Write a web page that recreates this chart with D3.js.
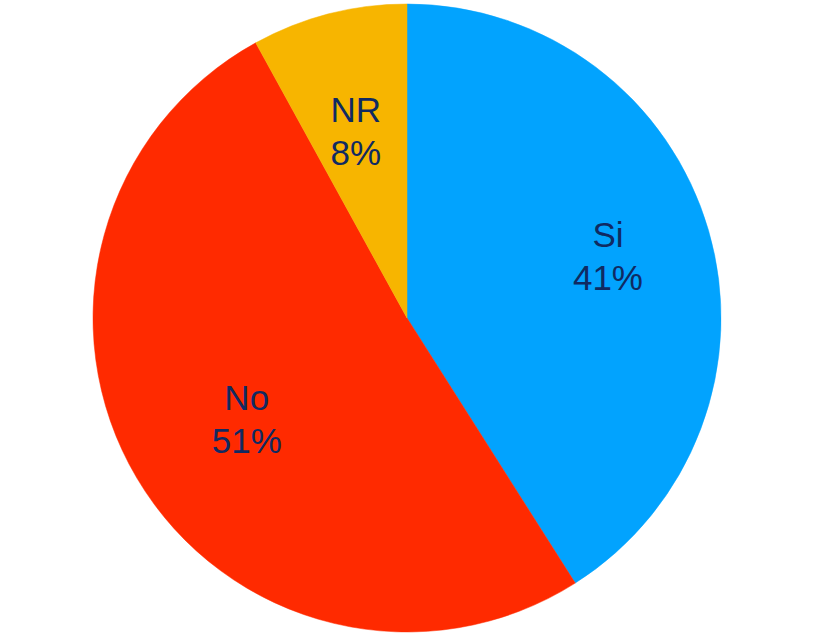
<!DOCTYPE html>
<html>
<head>
<meta charset="utf-8">
<script src="https://cdn.jsdelivr.net/npm/d3@7"></script>
<style>
  html, body { margin: 0; padding: 0; background: #ffffff; }
  svg { display: block; }
</style>
</head>
<body>
<svg id="chart" width="814" height="637"></svg>
<script>
const categories = ["Si", "No", "NR"];
const values = [41, 51, 8];
const colors = ["#02A3FE", "#FF2A00", "#F7B500"];

const width = 814, height = 637;
const cx = 407, cy = 318, R = 314;
// small label nudges (layout only)
const nudges = [[11, -7], [10, 0], [-2, 5]];

const svg = d3.select("#chart");
const g = svg.append("g").attr("transform", `translate(${cx},${cy})`);

const data = categories.map((c, i) => ({ name: c, value: values[i], color: colors[i] }));
const total = d3.sum(values);

const pie = d3.pie().value(d => d.value).sort(null);
const arc = d3.arc().innerRadius(0).outerRadius(R);
const labelArc = d3.arc().innerRadius(R * 0.63).outerRadius(R * 0.63);

const arcs = pie(data);

g.selectAll("path.slice")
  .data(arcs)
  .enter().append("path")
  .attr("class", "slice")
  .attr("d", arc)
  .attr("fill", d => d.data.color)
  .attr("stroke", d => d.data.color)
  .attr("stroke-width", 0.5);

const labels = g.selectAll("text.label")
  .data(arcs)
  .enter().append("text")
  .attr("class", "label")
  .attr("text-anchor", "middle")
  .attr("font-family", "'Liberation Sans', Arial, sans-serif")
  .attr("font-size", 35)
  .attr("fill", "#102A62")
  .attr("transform", (d, i) => {
    const c = labelArc.centroid(d);
    return `translate(${c[0] + nudges[i][0]},${c[1] + nudges[i][1]})`;
  });

labels.append("tspan")
  .attr("x", 0).attr("y", -9)
  .text(d => d.data.name);
labels.append("tspan")
  .attr("x", 0).attr("y", 34)
  .text(d => Math.round(d.data.value / total * 100) + "%");
</script>
</body>
</html>
